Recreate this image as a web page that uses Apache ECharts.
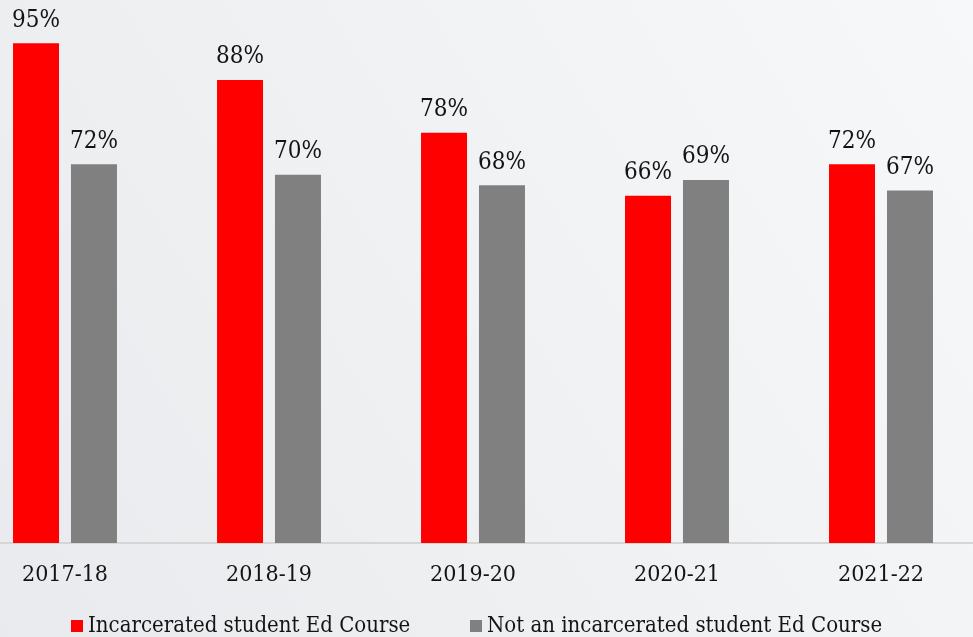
<!DOCTYPE html>
<html>
<head>
<meta charset="utf-8">
<script src="https://cdn.jsdelivr.net/npm/echarts@6/dist/echarts.min.js"></script>
<style>html,body{margin:0;padding:0;overflow:hidden;width:973px;height:637px;}#c{width:1020px;height:637px;margin-left:-37px;}</style>
</head>
<body>
<div id="c"></div>
<script>
const categories = ['2017-18', '2018-19', '2019-20', '2020-21', '2021-22'];
const incarcerated = [95, 88, 78, 66, 72];
const notIncarcerated = [72, 70, 68, 69, 67];
const seriesNames = ['Incarcerated student Ed Course', 'Not an incarcerated student Ed Course'];

const FONT = "'DejaVu Serif Condensed', 'DejaVu Serif'";
const chart = echarts.init(document.getElementById('c'));
const labelCfg = {
  show: true, position: 'top', distance: 11,
  formatter: p => p.value + '%',
  fontFamily: FONT, fontSize: 24, color: '#141414'
};
chart.setOption({
  animation: false,
  backgroundColor: {
    type: 'linear', x: 1, y: 0, x2: 0, y2: 1,
    colorStops: [
      { offset: 0, color: '#f7f8f9' },
      { offset: 0.5, color: '#f0f1f3' },
      { offset: 1, color: '#e8eaed' }
    ]
  },
  grid: { left: 0, right: 0, top: 17, bottom: 94 },
  legend: [
    { data: [seriesNames[0]], left: 103, top: 610, icon: 'rect', itemWidth: 12, itemHeight: 12, itemGap: 6,
      textStyle: { fontFamily: FONT, fontSize: 22, color: '#141414' } },
    { data: [seriesNames[1]], left: 502, top: 610, icon: 'rect', itemWidth: 12, itemHeight: 12, itemGap: 6,
      textStyle: { fontFamily: FONT, fontSize: 22, color: '#141414' } }
  ],
  xAxis: {
    type: 'category', data: categories,
    axisLine: { lineStyle: { color: '#d6d6d6', width: 2 } },
    axisTick: { show: false },
    axisLabel: { fontFamily: FONT, fontSize: 23, color: '#141414', margin: 21 }
  },
  yAxis: {
    type: 'value', min: 0, max: 100, show: false,
    splitLine: { show: false }
  },
  series: [
    { name: seriesNames[0], type: 'bar', data: incarcerated, barWidth: 46, barGap: '26%',
      itemStyle: { color: '#ff0000' }, label: labelCfg },
    { name: seriesNames[1], type: 'bar', data: notIncarcerated, barWidth: 46,
      itemStyle: { color: '#808080' }, label: labelCfg }
  ]
});
</script>
</body>
</html>
